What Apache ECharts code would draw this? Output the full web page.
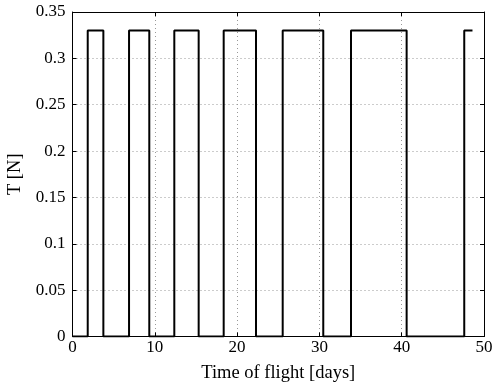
<!DOCTYPE html>
<html>
<head>
<meta charset="utf-8">
<script src="https://cdn.jsdelivr.net/npm/echarts@6/dist/echarts.min.js"></script>
<style>
html, body { margin: 0; padding: 0; background: #fff; }
#chart { width: 494px; height: 383px; }
</style>
</head>
<body>
<div id="chart"></div>
<script>
// thrust switching times [days]
var onTimes = [1.85, 6.87, 12.37, 18.37, 25.54, 33.84, 47.6];
var offTimes = [3.75, 9.33, 15.33, 22.3, 30.47, 40.6];
var thrustLevel = 0.33;
var endTime = 48.6;

var xTicks = [0, 10, 20, 30, 40, 50];
var yTicks = [0, 0.05, 0.1, 0.15, 0.2, 0.25, 0.3, 0.35];

// build the step profile
var points = [[0, 0]];
for (var i = 0; i < onTimes.length; i++) {
    points.push([onTimes[i], 0]);
    points.push([onTimes[i], thrustLevel]);
    if (i < offTimes.length) {
        points.push([offTimes[i], thrustLevel]);
        points.push([offTimes[i], 0]);
    } else {
        points.push([endTime, thrustLevel]);
    }
}

var font = 'Liberation Serif';
var gridLine = { show: true, lineStyle: { color: '#999', type: [1, 3], width: 1 } };

var chart = echarts.init(document.getElementById('chart'));
var option = {
    backgroundColor: '#fff',
    animation: false,
    grid: { left: 72.5, right: 10, top: 12, bottom: 46.5, containLabel: false, outerBoundsMode: 'none' },
    xAxis: [
        {
            type: 'value',
            min: xTicks[0],
            max: xTicks[xTicks.length - 1],
            interval: 10,
            name: 'Time of flight [days]',
            nameLocation: 'middle',
            nameGap: 27,
            nameTextStyle: { fontFamily: font, fontSize: 18.5, color: '#000' },
            axisLine: { show: true, onZero: false, lineStyle: { color: '#000', width: 1 } },
            axisTick: { show: true, inside: true, length: 4, lineStyle: { color: '#000' } },
            axisLabel: { fontFamily: font, fontSize: 17, color: '#000', margin: 3 },
            splitLine: gridLine
        },
        {
            type: 'value',
            position: 'top',
            min: xTicks[0],
            max: xTicks[xTicks.length - 1],
            interval: 10,
            axisLine: { show: true, onZero: false, lineStyle: { color: '#000', width: 1 } },
            axisTick: { show: true, inside: true, length: 4, lineStyle: { color: '#000' } },
            axisLabel: { show: false },
            splitLine: { show: false }
        }
    ],
    yAxis: [
        {
            type: 'value',
            min: yTicks[0],
            max: yTicks[yTicks.length - 1],
            interval: 0.05,
            name: 'T [N]',
            nameLocation: 'middle',
            nameGap: 46,
            nameTextStyle: { fontFamily: font, fontSize: 18.5, color: '#000' },
            axisLine: { show: true, onZero: false, lineStyle: { color: '#000', width: 1 } },
            axisTick: { show: true, inside: true, length: 4, lineStyle: { color: '#000' } },
            axisLabel: { fontFamily: font, fontSize: 17, color: '#000', margin: 7 },
            splitLine: gridLine
        },
        {
            type: 'value',
            position: 'right',
            min: yTicks[0],
            max: yTicks[yTicks.length - 1],
            interval: 0.05,
            axisLine: { show: true, onZero: false, lineStyle: { color: '#000', width: 1 } },
            axisTick: { show: true, inside: true, length: 4, lineStyle: { color: '#000' } },
            axisLabel: { show: false },
            splitLine: { show: false }
        }
    ],
    series: [
        {
            type: 'line',
            data: points,
            showSymbol: false,
            symbol: 'none',
            lineStyle: { color: '#000', width: 2 }
        }
    ]
};
chart.setOption(option);
</script>
</body>
</html>
